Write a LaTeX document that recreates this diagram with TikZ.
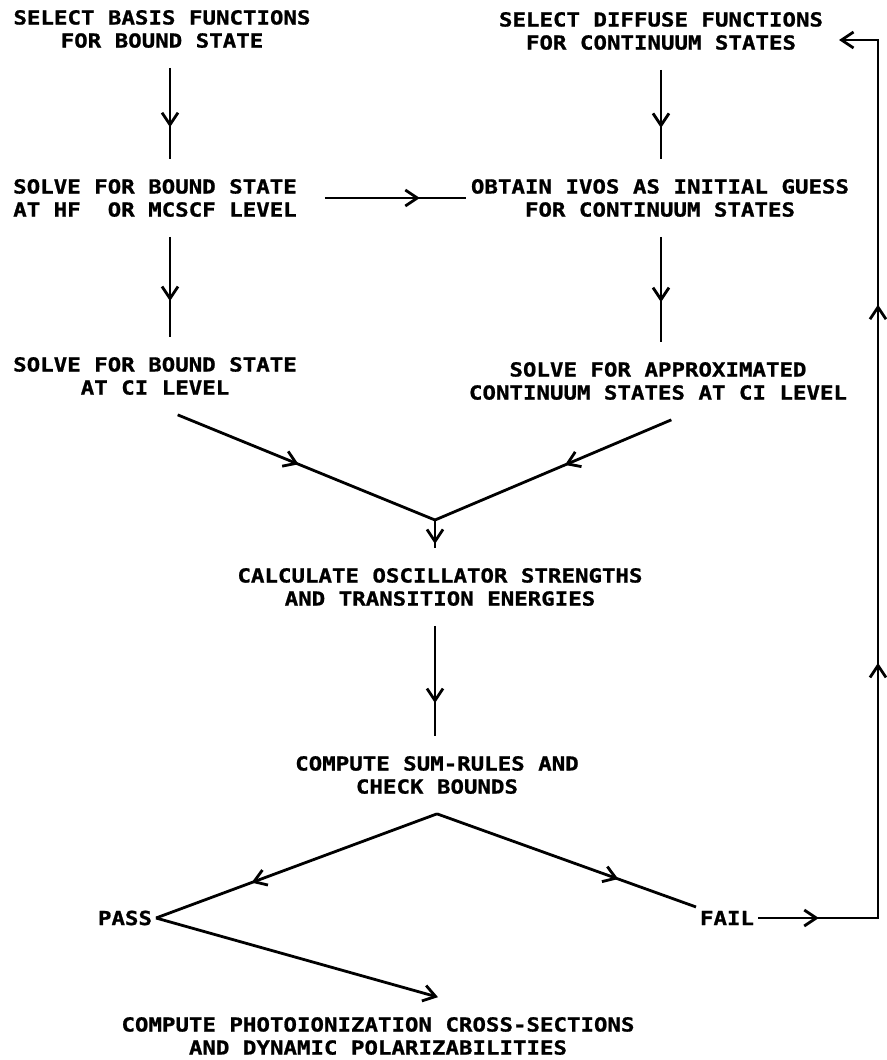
\documentclass[tikz,border=0pt]{standalone}
\usepackage{fontspec}
\usepackage{tikz}
\usetikzlibrary{arrows.meta,decorations.markings}
\newfontfamily\plotfont[FakeStretch=1.16,FakeBold=1]{DejaVu Sans Mono}
\tikzset{
    flownode/.style = {
        align=center,
        font=\plotfont\bfseries\fontsize{14.5}{17.3}\selectfont,
        inner xsep=4pt,
        inner ysep=15pt,
        outer sep=0mm
    },
    wordnode/.style = {
        flownode,
        inner sep=3pt
    },
    flowline/.style = {
        line width=2.1pt,
        line join=miter
    },
    barb/.style = {
        -{Straight Barb[length=9pt,width=12pt,line width=2.1pt]}
    },
    midarrow/.style = {
        postaction={decorate,
            decoration={markings,
                mark=at position #1 with {\arrow{Straight Barb[length=9pt,width=12pt,line width=2.1pt]}}}}
    }
}
\begin{document}
\begin{tikzpicture}[x=0.75pt,y=-0.75pt]
            \useasboundingbox (0,0) rectangle (886,1060);
            \coordinate (lcol) at (170,0);
            \coordinate (rcol) at (661,0);
            \coordinate (join) at (435,520);
            \coordinate (fbot) at (878,918);
            \coordinate (ftop) at (878,40);

            \node [flownode] (basis) at (162,29) {SELECT BASIS FUNCTIONS\\FOR BOUND STATE};
            \node [flownode] (diffuse) at (661,31) {SELECT DIFFUSE FUNCTIONS\\FOR CONTINUUM STATES};
            \node [flownode, align=left] (hfsolve) at (155,198) {SOLVE FOR BOUND STATE\\AT HF\ \ OR MCSCF LEVEL};
            \node [flownode] (ivos) at (660,198) {OBTAIN IVOS AS INITIAL GUESS\\FOR CONTINUUM STATES};
            \node [flownode] (cibound) at (155,376) {SOLVE FOR BOUND STATE\\AT CI LEVEL};
            \node [flownode] (cicont) at (658,381) {SOLVE FOR APPROXIMATED\\CONTINUUM STATES AT CI LEVEL};
            \node [flownode] (oscill) at (440,587) {CALCULATE OSCILLATOR STRENGTHS\\AND TRANSITION ENERGIES};
            \node [flownode] (sumrule) at (437,775) {COMPUTE SUM-RULES AND\\CHECK BOUNDS};
            \node [wordnode] (pass) at (125,918) {PASS};
            \node [wordnode] (fail) at (727,918) {FAIL};
            \node [flownode] (photo) at (378,1036) {COMPUTE PHOTOIONIZATION CROSS-SECTIONS\\AND DYNAMIC POLARIZABILITIES};

            \draw [flowline, midarrow=0.65] (basis.south -| lcol) -- (hfsolve.north -| lcol);
            \draw [flowline, midarrow=0.65] (diffuse.south -| rcol) -- (ivos.north -| rcol);
            \draw [flowline, midarrow=0.72, shorten <=17pt] (hfsolve.east) -- (hfsolve.east -| ivos.west);
            \draw [flowline, midarrow=0.64] (hfsolve.south -| lcol) -- (cibound.north -| lcol);
            \draw [flowline, midarrow=0.62] (ivos.south -| rcol) -- (cicont.north -| rcol);
            \draw [flowline, midarrow=0.47] ([xshift=17pt]cibound.south) -- (join);
            \draw [flowline, midarrow=0.45] ([xshift=10pt]cicont.south) -- (join);
            \draw [flowline, midarrow=0.85] (join) -- (oscill.north -| join);
            \draw [flowline, midarrow=0.7] (oscill.south -| join) -- (sumrule.north -| join);
            \draw [flowline, midarrow=0.66] (sumrule.south) -- (pass.east);
            \draw [flowline, midarrow=0.7] (sumrule.south) -- (fail.north west);
            \draw [flowline, barb] (pass.east) -- ([xshift=45pt]photo.north);
            \draw [flowline, barb, shorten >=8pt, midarrow=0.058, midarrow=0.358, midarrow=0.70]
                (fail.east) -- (fbot) -- (ftop) -- (ftop -| diffuse.east);
\end{tikzpicture}
\end{document}
